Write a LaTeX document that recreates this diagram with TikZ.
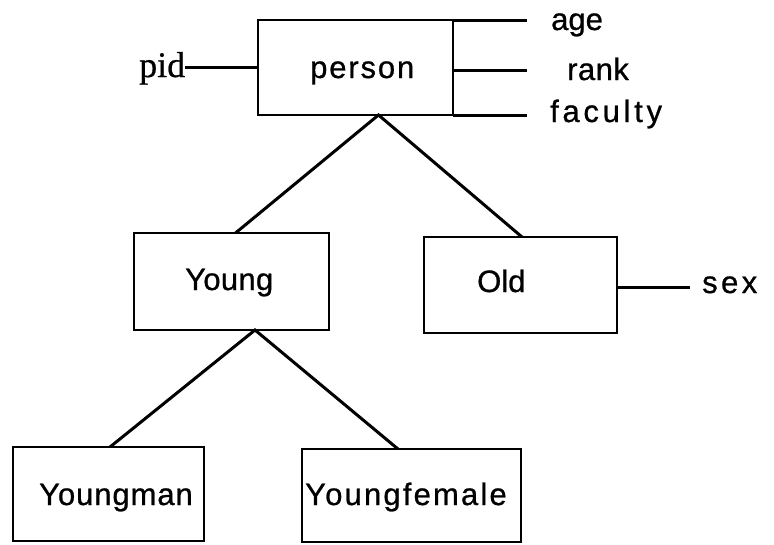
\documentclass[tikz,border=0pt]{standalone}
\usepackage{fontspec}
\setmainfont[FakeBold=0.8]{Liberation Sans}
\newfontfamily\pidfont[FakeBold=0.6]{Liberation Serif}
\begin{document}
\begin{tikzpicture}[x=1pt,y=-1pt,
  entity/.style={draw, line width=2.8pt, rectangle, inner sep=0pt, outer sep=0pt, anchor=north west},
  lbl/.style={anchor=base west, inner sep=0pt, font=\fontsize{31}{36}\selectfont},
  link/.style={line width=3pt},
]
\path[use as bounding box] (0,0) rectangle (774,544);

% entity boxes
\node[entity, minimum width=195pt, minimum height=95pt] (person) at (258,20) {};
\node[entity, minimum width=195pt, minimum height=97pt] (young) at (134,233) {};
\node[entity, minimum width=193pt, minimum height=96pt] (old) at (424,237) {};
\node[entity, minimum width=191pt, minimum height=94pt] (youngman) at (13,447) {};
\node[entity, minimum width=219pt, minimum height=93pt] (youngfemale) at (302,449) {};

% box captions
\node[lbl] (t-person) at (310,78) {\addfontfeature{LetterSpace=6}person};
\node[lbl] (t-young) at (185,290) {\addfontfeature{LetterSpace=1}Young};
\node[lbl] (t-old) at (477,292) {Old};
\node[lbl] (t-youngman) at (39,505) {\addfontfeature{LetterSpace=3}Youngman};
\node[lbl] (t-youngfemale) at (305,505) {\addfontfeature{LetterSpace=7}Youngfemale};

% attribute labels
\node[lbl] (t-age) at (551,30) {age};
\node[lbl] (t-rank) at (567,80) {\addfontfeature{LetterSpace=1.5}rank};
\node[lbl] (t-faculty) at (550,122) {\addfontfeature{LetterSpace=12}faculty};
\node[lbl] (t-sex) at (702,293) {\addfontfeature{LetterSpace=11}sex};
\node[anchor=base west, inner sep=0pt, font=\pidfont\fontsize{36}{40}\selectfont] (t-pid) at (139,77) {pid};

% attribute stubs
\coordinate (age-end) at (527,20);
\coordinate (rank-end) at (527,70);
\coordinate (fac-end) at (527,115);
\coordinate (sex-end) at (690,287);
\draw[link] (person.north east) -- (age-end);
\draw[link] (person.east |- rank-end) -- (rank-end);
\draw[link] (person.south east) -- (fac-end);
\draw[link] (person.west) -- (person.west -| t-pid.east);
\draw[link] (old.east |- sex-end) -- (sex-end);

% hierarchy links
\draw[link] ([xshift=4pt]young.north) -- ([xshift=23pt]person.south) -- ([xshift=1.5pt]old.north);
\draw[link] ([xshift=1.5pt]youngman.north) -- ([xshift=23.5pt]young.south) -- ([xshift=-13.5pt]youngfemale.north);
\end{tikzpicture}
\end{document}
